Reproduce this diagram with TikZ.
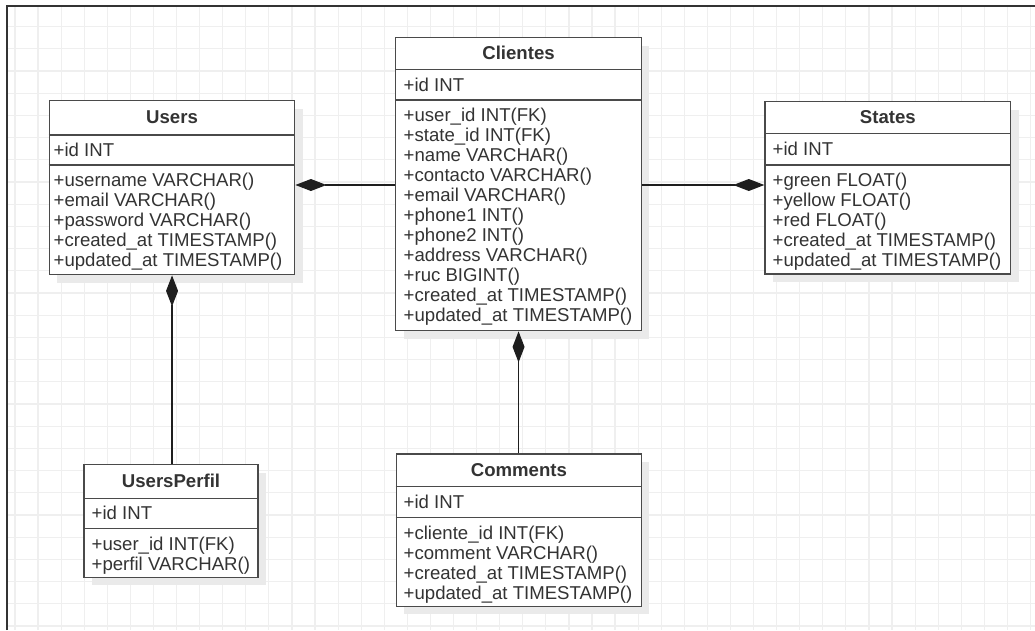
\documentclass[tikz,border=0pt]{standalone}
\usepackage{fontspec}
\setmainfont{Liberation Sans}
\usetikzlibrary{arrows.meta,calc,shadows}

\definecolor{gridc}{HTML}{EFEFEF}
\definecolor{shadowc}{HTML}{EAEAEA}
\definecolor{linec}{HTML}{4A4A4A}
\definecolor{textc}{HTML}{333333}
\definecolor{framec}{HTML}{333333}
\definecolor{connc}{HTML}{1E1E1E}

\newcommand\umlfont{\fontsize{18.6}{20}\selectfont}

\tikzset{
  classbox/.style={draw=linec, line width=1.4pt, fill=white, inner sep=0pt,
    anchor=north west,
    drop shadow={shadow xshift=8pt, shadow yshift=-8pt, fill=shadowc, opacity=1}},
  divider/.style={draw=linec, line width=1.4pt},
  ctitle/.style={font=\umlfont\bfseries, text=textc, inner sep=0pt},
  crow/.style={font=\umlfont, text=textc, inner sep=0pt, anchor=west},
  cattrs/.style={font=\umlfont, text=textc, inner sep=0pt, anchor=north west, align=left},
  comp/.style={-{Diamond[length=31pt,width=12pt]}, draw=connc, fill=connc, line width=1.2pt},
}

% frame of a class: name, left, top, width, height, first and second divider offsets
\newcommand\classframe[7]{%
  \node[classbox, minimum width=#4pt, minimum height=#5pt] (#1) at (#2,#3) {};
  \draw[divider] ($(#1.north west)+(0,#6)$) -- ($(#1.north east)+(0,#6)$);
  \draw[divider] ($(#1.north west)+(0,#7)$) -- ($(#1.north east)+(0,#7)$);
}

\begin{document}
\begin{tikzpicture}[x=1pt, y=-1pt]
  \useasboundingbox (0,0) rectangle (1035,630);

  % background grid
  \foreach \i in {0,...,44}
    \draw[gridc, line width=1.2pt] ({15+23.08*\i},6) -- ({15+23.08*\i},630);
  \foreach \j in {0,...,27}
    \draw[gridc, line width=1.2pt] (7,{26.5+22.2*\j}) -- (1035,{26.5+22.2*\j});

  % page frame
  \draw[framec, line width=1.3pt] (7,630) -- (7,6) -- (1035,6);

  % class frames
  \classframe{users}{48.7}{100}{245.3}{174}{35}{65}
  \classframe{clientes}{395}{37}{245.7}{293}{32.3}{63}
  \classframe{states}{764.3}{101}{245.7}{172.3}{32.3}{64}
  \classframe{comments}{395.7}{453.3}{245}{152.4}{33.4}{64}
  \classframe{usersperfil}{83.3}{464}{174}{112.7}{34.3}{64.3}

  % Users
  \node[ctitle] (users-t) at ($(users.north)+(0,17.5)$) {Users};
  \node[crow] (users-id) at (53.5,150) {+id INT};
  \node[cattrs] (users-a) at (53.5,170.5) {\rule{0pt}{16pt}+username VARCHAR()\\
    +email VARCHAR()\\+password VARCHAR()\\+created\_at TIMESTAMP()\\+updated\_at TIMESTAMP()};

  % Clientes
  \node[ctitle] (clientes-t) at ($(clientes.north)+(0,16.2)$) {Clientes};
  \node[crow] (clientes-id) at (403.5,84.7) {+id INT};
  \node[cattrs] (clientes-a) at (403.5,105.5) {\rule{0pt}{16pt}+user\_id INT(FK)\\
    +state\_id INT(FK)\\+name VARCHAR()\\+contacto VARCHAR()\\+email VARCHAR()\\
    +phone1 INT()\\+phone2 INT()\\+address VARCHAR()\\+ruc BIGINT()\\
    +created\_at TIMESTAMP()\\+updated\_at TIMESTAMP()};

  % States
  \node[ctitle] (states-t) at ($(states.north)+(0,16.2)$) {States};
  \node[crow] (states-id) at (772.5,149) {+id INT};
  \node[cattrs] (states-a) at (772.5,170.5) {\rule{0pt}{16pt}+green FLOAT()\\
    +yellow FLOAT()\\+red FLOAT()\\+created\_at TIMESTAMP()\\+updated\_at TIMESTAMP()};

  % Comments
  \node[ctitle] (comments-t) at ($(comments.north)+(0,16.7)$) {Comments};
  \node[crow] (comments-id) at (403.5,502) {+id INT};
  \node[cattrs] (comments-a) at (403.5,522.8) {\rule{0pt}{16pt}+cliente\_id INT(FK)\\
    +comment VARCHAR()\\+created\_at TIMESTAMP()\\+updated\_at TIMESTAMP()};

  % UsersPerfil
  \node[ctitle] (usersperfil-t) at ($(usersperfil.north)+(0,17.1)$) {UsersPerfil};
  \node[crow] (usersperfil-id) at (91.5,513.3) {+id INT};
  \node[cattrs] (usersperfil-a) at (91.5,533.8) {\rule{0pt}{16pt}+user\_id INT(FK)\\
    +perfil VARCHAR()};

  % composition connectors
  \coordinate (uc) at ($(users.north east)+(0,85)$);
  \coordinate (sc) at ($(states.north west)+(0,84)$);
  \draw[comp] (clientes.west |- uc) -- (uc);
  \draw[comp] (clientes.east |- sc) -- (sc);
  \draw[comp] (users.south |- usersperfil.north) -- (users.south);
  \draw[comp] (clientes.south |- comments.north) -- (clientes.south);
\end{tikzpicture}
\end{document}
